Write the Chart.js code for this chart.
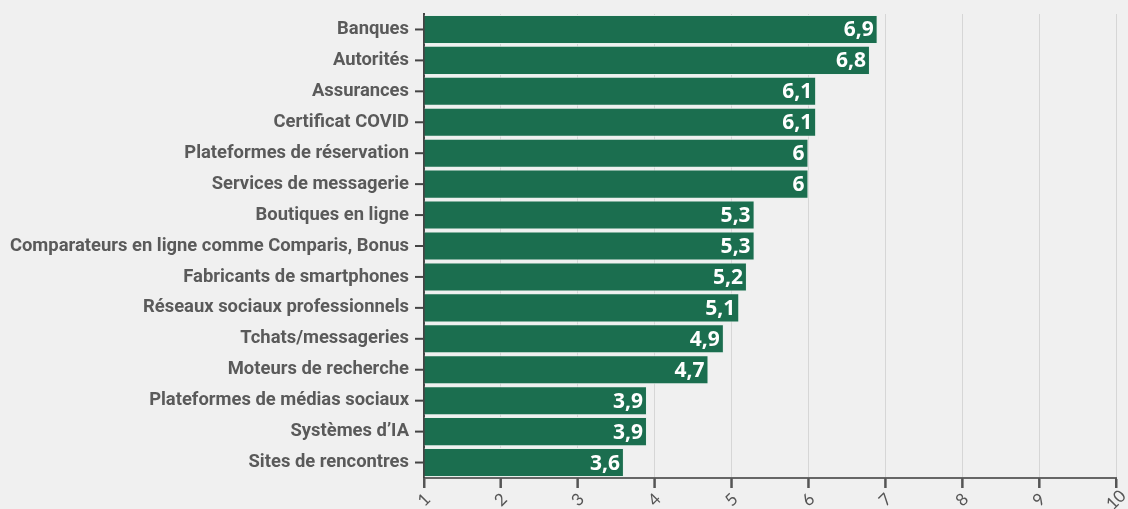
<!DOCTYPE html>
<html>
<head>
<meta charset="utf-8">
<script src="https://cdn.jsdelivr.net/npm/chart.js@4"></script>
<style>
  html, body { margin: 0; padding: 0; background: #f0f0f0; }
  #wrap { width: 1128px; height: 509px; position: relative; }
</style>
</head>
<body>
<div id="wrap"><canvas id="chart"></canvas></div>
<script>
// données
const categories = [
  'Banques', 'Autorités', 'Assurances', 'Certificat COVID',
  'Plateformes de réservation', 'Services de messagerie', 'Boutiques en ligne',
  'Comparateurs en ligne comme Comparis, Bonus', 'Fabricants de smartphones',
  'Réseaux sociaux professionnels', 'Tchats/messageries', 'Moteurs de recherche',
  'Plateformes de médias sociaux', 'Systèmes d’IA', 'Sites de rencontres'
];
const scores = [6.9, 6.8, 6.1, 6.1, 6, 6, 5.3, 5.3, 5.2, 5.1, 4.9, 4.7, 3.9, 3.9, 3.6];
const xTicks = [1, 2, 3, 4, 5, 6, 7, 8, 9, 10];

const GREEN = '#1b6e4f';

// étiquettes de valeur dans la barre
const valueLabels = {
  id: 'valueLabels',
  afterDatasetsDraw(chart) {
    const ctx = chart.ctx;
    const meta = chart.getDatasetMeta(0);
    ctx.save();
    ctx.fillStyle = '#ffffff';
    ctx.font = 'bold 21px "Open Sans"';
    ctx.textAlign = 'right';
    ctx.textBaseline = 'middle';
    meta.data.forEach((bar, i) => {
      ctx.fillText(String(scores[i]).replace('.', ','), bar.x - 4, bar.y + 1);
    });
    ctx.restore();
  }
};

// graduations + libellés de l'axe x, tournés et centrés sous chaque graduation
const xLabels = {
  id: 'xLabels',
  afterDraw(chart) {
    const ctx = chart.ctx, x = chart.scales.x;
    const top = chart.chartArea.bottom;
    ctx.save();
    ctx.strokeStyle = '#555';
    ctx.lineWidth = 2;
    xTicks.forEach(v => {
      const px = x.getPixelForValue(v);
      ctx.beginPath();
      ctx.moveTo(px, top);
      ctx.lineTo(px, top + 10);
      ctx.stroke();
    });
    ctx.fillStyle = '#555';
    ctx.font = '17px Lato';
    ctx.textAlign = 'center';
    ctx.textBaseline = 'middle';
    xTicks.forEach(v => {
      ctx.save();
      ctx.translate(x.getPixelForValue(v), top + 22);
      ctx.rotate(-Math.PI / 4);
      ctx.fillText(String(v), 0, 0);
      ctx.restore();
    });
    ctx.restore();
  }
};

new Chart(document.getElementById('chart'), {
  type: 'bar',
  data: {
    labels: categories,
    datasets: [{
      data: scores,
      base: 1,
      backgroundColor: GREEN,
      borderColor: '#e8f0ec',
      borderWidth: { top: 1, bottom: 1, right: 1, left: 0 },
      borderSkipped: false,
      barPercentage: 0.94,
      categoryPercentage: 1
    }]
  },
  options: {
    indexAxis: 'y',
    responsive: true,
    maintainAspectRatio: false,
    animation: false,
    layout: { padding: { top: 14, right: 12, left: 0, bottom: 0 } },
    plugins: { legend: { display: false }, tooltip: { enabled: false } },
    scales: {
      x: {
        min: 1, max: 10,
        afterBuildTicks(axis) { axis.ticks = xTicks.map(v => ({ value: v })); },
        afterFit(axis) { axis.height = 31; axis.paddingLeft = 0; axis.paddingRight = 0; },
        grid: { color: '#d6d6d6', lineWidth: 1, drawTicks: true, tickLength: 10, tickColor: '#555', tickWidth: 2 },
        border: { display: true, color: '#666', width: 2 },
        ticks: { display: false }
      },
      y: {
        afterFit(axis) { axis.width = 424; axis.paddingTop = 0; axis.paddingBottom = 0; },
        grid: { display: false, drawTicks: true, tickLength: 8 },
        border: { display: true, color: '#444', width: 2 },
        ticks: {
          color: '#5a5a5a', font: { family: 'Roboto', size: 18.4, weight: 'bold' },
          padding: 7
        }
      }
    }
  },
  plugins: [valueLabels, xLabels, {
    id: 'ytickMarks',
    afterDraw(chart) {
      const ctx = chart.ctx, y = chart.scales.y, left = chart.chartArea.left;
      ctx.save();
      ctx.strokeStyle = '#444';
      ctx.lineWidth = 2;
      categories.forEach((c, i) => {
        const py = y.getPixelForValue(i);
        ctx.beginPath();
        ctx.moveTo(left - 9, py);
        ctx.lineTo(left, py);
        ctx.stroke();
      });
      ctx.restore();
    }
  }]
});
</script>
</body>
</html>
